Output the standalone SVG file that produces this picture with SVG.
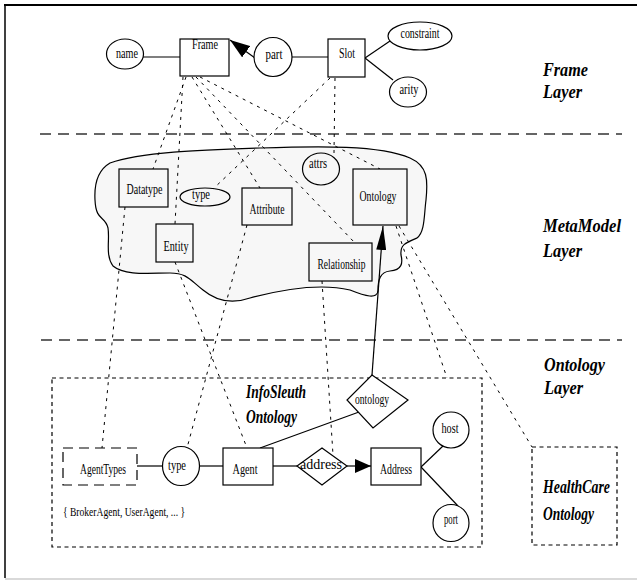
<svg xmlns="http://www.w3.org/2000/svg" width="637" height="581" viewBox="0 0 637 581">
<defs>
<style>
.lbl{font-family:"Liberation Serif","Times New Roman",serif;font-size:14.5px;text-anchor:middle;fill:#000}
.small{font-family:"Liberation Serif","Times New Roman",serif;font-size:13px;fill:#000}
.layer{font-family:"Liberation Serif","Times New Roman",serif;font-size:18px;font-weight:bold;font-style:italic;fill:#000}
.node{fill:#fff;stroke:#000;stroke-width:1.2}
.cnode{fill:#f7f7f7;stroke:#000;stroke-width:1.2}
.edge{fill:none;stroke:#000;stroke-width:1.2}
.dot{fill:none;stroke:#000;stroke-width:1;stroke-dasharray:3 5}
.box{fill:none;stroke:#000;stroke-width:1.2;stroke-dasharray:4 3.5}
.sep{fill:none;stroke:#333;stroke-width:1.5;stroke-dasharray:11 7}
</style>
<marker id="ah" viewBox="0 0 20 14" refX="20" refY="7" markerWidth="20" markerHeight="14" markerUnits="userSpaceOnUse" orient="auto">
<path d="M0,0 L20,7 L0,14 Z" fill="#000"/>
</marker>
<marker id="ahl" viewBox="0 0 24 10" refX="24" refY="5" markerWidth="24" markerHeight="10" markerUnits="userSpaceOnUse" orient="auto">
<path d="M0,0 L24,5 L0,10 Z" fill="#000"/>
</marker>
<marker id="ah2" viewBox="0 0 16 14" refX="16" refY="7" markerWidth="16" markerHeight="14" markerUnits="userSpaceOnUse" orient="auto">
<path d="M0,0 L16,7 L0,14 Z" fill="#000"/>
</marker>
</defs>
<rect width="637" height="581" fill="#fff"/>
<g id="frame-border">
<line x1="4" y1="5" x2="637" y2="5" stroke="#000" stroke-width="2"/>
<line x1="5" y1="4" x2="5" y2="578" stroke="#000" stroke-width="1.5"/>
<line x1="5" y1="579" x2="637" y2="579" stroke="#ccc" stroke-width="1.5"/>
</g>
<g id="separators">
<line class="sep" x1="40" y1="134" x2="622" y2="134"/>
<line class="sep" x1="41" y1="340" x2="622" y2="340"/>
</g>
<g id="cloud">
<path class="cnode" d="M110,163 C140,152 200,150 260,148 C320,146 380,145 410,158 C428,166 428,180 426,200 C424,215 425,232 417,238 C405,243 400,245 401,255 C403,263 402,270 390,271 C380,272 378,280 378,290 C378,300 365,296 350,290 C320,283 280,290 250,298 C230,305 215,300 203,290 C190,280 187,273 170,273 C150,273 125,276 113,266 C105,255 110,240 108,228 C105,215 96,222 95,200 C94,182 98,170 110,163 Z"/>
</g>
<g id="connectors">
<line class="edge" x1="143" y1="57" x2="180" y2="57"/>
<line class="edge" x1="292" y1="57" x2="328" y2="57"/>
<line class="edge" x1="255" y1="58" x2="230" y2="40" marker-end="url(#ah)"/>
<line class="edge" x1="365" y1="58" x2="390" y2="41"/>
<line class="edge" x1="365" y1="58" x2="393" y2="80"/>
<line class="dot" x1="186" y1="77" x2="153" y2="169"/>
<line class="dot" x1="183" y1="77" x2="175" y2="224"/>
<line class="dot" x1="192" y1="77" x2="260" y2="188"/>
<line class="dot" x1="196" y1="77" x2="355" y2="243"/>
<line class="dot" x1="200" y1="77" x2="380" y2="169"/>
<line class="dot" x1="330" y1="78" x2="213" y2="189"/>
<line class="dot" x1="335" y1="78" x2="334" y2="153"/>
<line class="dot" x1="125" y1="207" x2="102" y2="448"/>
<line class="dot" x1="175" y1="262" x2="247" y2="448"/>
<line class="dot" x1="247" y1="225" x2="187" y2="448"/>
<line class="dot" x1="322" y1="281" x2="333" y2="455"/>
<line class="dot" x1="396" y1="226" x2="447" y2="378"/>
<line class="dot" x1="399" y1="226" x2="532" y2="447"/>
<line class="edge" x1="372" y1="375" x2="383" y2="226" marker-end="url(#ahl)"/>
<line class="edge" x1="260" y1="448" x2="359" y2="412"/>
<line class="edge" x1="137" y1="466" x2="162" y2="466"/>
<line class="edge" x1="200" y1="466" x2="223" y2="466"/>
<line class="edge" x1="273" y1="466" x2="297" y2="466"/>
<line class="edge" x1="347" y1="466" x2="371" y2="466" marker-end="url(#ah2)"/>
<line class="edge" x1="421" y1="467" x2="443" y2="446"/>
<line class="edge" x1="421" y1="467" x2="458" y2="506"/>
</g>
<g id="name"><ellipse class="node" cx="125" cy="54" rx="18.5" ry="15"/><text class="lbl" x="127" y="58" textLength="22" lengthAdjust="spacingAndGlyphs">name</text></g>
<g id="Frame"><rect class="node" x="180" y="39" width="49" height="37"/><text class="lbl" x="205" y="49" textLength="26" lengthAdjust="spacingAndGlyphs">Frame</text></g>
<g id="part"><ellipse class="node" cx="273" cy="57" rx="19" ry="19.5"/><text class="lbl" x="274" y="59" textLength="17" lengthAdjust="spacingAndGlyphs">part</text></g>
<g id="Slot"><rect class="node" x="328" y="39" width="37" height="38"/><text class="lbl" x="347" y="58" textLength="16" lengthAdjust="spacingAndGlyphs">Slot</text></g>
<g id="constraint"><ellipse class="node" cx="420" cy="36" rx="32" ry="14"/><text class="lbl" x="420" y="38" textLength="39" lengthAdjust="spacingAndGlyphs">constraint</text></g>
<g id="arity"><ellipse class="node" cx="408" cy="92" rx="18.5" ry="15"/><text class="lbl" x="409" y="94" textLength="19" lengthAdjust="spacingAndGlyphs">arity</text></g>
<g id="Datatype"><rect class="cnode" x="119" y="169" width="49" height="38"/><text class="lbl" x="144.5" y="194" textLength="36" lengthAdjust="spacingAndGlyphs">Datatype</text></g>
<g id="type-meta"><ellipse class="cnode" cx="205" cy="197" rx="25" ry="9"/><text class="lbl" x="201" y="199" textLength="18" lengthAdjust="spacingAndGlyphs">type</text></g>
<g id="Attribute"><rect class="cnode" x="242" y="188" width="50" height="37"/><text class="lbl" x="267" y="214" textLength="35" lengthAdjust="spacingAndGlyphs">Attribute</text></g>
<g id="attrs"><ellipse class="cnode" cx="321" cy="169" rx="18.5" ry="16"/><text class="lbl" x="318" y="168" textLength="18" lengthAdjust="spacingAndGlyphs">attrs</text></g>
<g id="Ontology"><rect class="cnode" x="353" y="169" width="54" height="56"/><text class="lbl" x="378" y="201" textLength="37" lengthAdjust="spacingAndGlyphs">Ontology</text></g>
<g id="Entity"><rect class="cnode" x="156" y="224" width="37" height="38"/><text class="lbl" x="176" y="251" textLength="25" lengthAdjust="spacingAndGlyphs">Entity</text></g>
<g id="Relationship"><rect class="cnode" x="309" y="243" width="63" height="38"/><text class="lbl" x="341.5" y="269" textLength="48" lengthAdjust="spacingAndGlyphs">Relationship</text></g>
<g id="InfoSleuth"><rect class="box" x="52" y="378" width="430" height="169"/><text class="layer" x="246" y="398" textLength="60" lengthAdjust="spacingAndGlyphs">InfoSleuth</text><text class="layer" x="246" y="423" textLength="51" lengthAdjust="spacingAndGlyphs">Ontology</text></g>
<g id="ontology-rel"><polygon class="node" points="372,375 408,400 373,428 347,400"/><text class="lbl" x="372" y="404" textLength="34" lengthAdjust="spacingAndGlyphs">ontology</text></g>
<g id="AgentTypes"><rect x="63" y="448" width="74" height="37" fill="#fff" stroke="#000" stroke-width="1.2" stroke-dasharray="10 6"/><text class="lbl" x="103" y="474" textLength="46" lengthAdjust="spacingAndGlyphs">AgentTypes</text><text class="small" x="63" y="516" textLength="122" lengthAdjust="spacingAndGlyphs">{ BrokerAgent, UserAgent, ... }</text></g>
<g id="type"><ellipse class="node" cx="181" cy="466" rx="18.5" ry="19.5"/><text class="lbl" x="177" y="470" textLength="18" lengthAdjust="spacingAndGlyphs">type</text></g>
<g id="Agent"><rect class="node" x="223" y="448" width="50" height="37"/><text class="lbl" x="245" y="474" textLength="25" lengthAdjust="spacingAndGlyphs">Agent</text></g>
<g id="address"><polygon class="node" points="322,448 347,466 322,485 297,466"/><text class="lbl" x="321" y="469" textLength="42" lengthAdjust="spacingAndGlyphs">address</text></g>
<g id="Address"><rect class="node" x="371" y="448" width="50" height="37"/><text class="lbl" x="396" y="474" textLength="32" lengthAdjust="spacingAndGlyphs">Address</text></g>
<g id="host"><ellipse class="node" cx="451" cy="430" rx="18" ry="18"/><text class="lbl" x="450" y="433" textLength="17" lengthAdjust="spacingAndGlyphs">host</text></g>
<g id="port"><ellipse class="node" cx="451" cy="523" rx="18" ry="18.5"/><text class="lbl" x="451" y="524" textLength="14" lengthAdjust="spacingAndGlyphs">port</text></g>
<g id="HealthCare"><rect class="box" x="532" y="447" width="85" height="98"/><text class="layer" x="543" y="493" textLength="67" lengthAdjust="spacingAndGlyphs">HealthCare</text><text class="layer" x="543" y="520" textLength="51" lengthAdjust="spacingAndGlyphs">Ontology</text></g>
<g id="layer-labels">
<text class="layer" x="543" y="76" textLength="45" lengthAdjust="spacingAndGlyphs">Frame</text>
<text class="layer" x="543" y="98" textLength="39" lengthAdjust="spacingAndGlyphs">Layer</text>
<text class="layer" x="543" y="232" textLength="78" lengthAdjust="spacingAndGlyphs">MetaModel</text>
<text class="layer" x="543" y="257" textLength="39" lengthAdjust="spacingAndGlyphs">Layer</text>
<text class="layer" x="544" y="371" style="font-size:19.5px" textLength="61" lengthAdjust="spacingAndGlyphs">Ontology</text>
<text class="layer" x="544" y="394" style="font-size:19.5px" textLength="39" lengthAdjust="spacingAndGlyphs">Layer</text>
</g>
</svg>
